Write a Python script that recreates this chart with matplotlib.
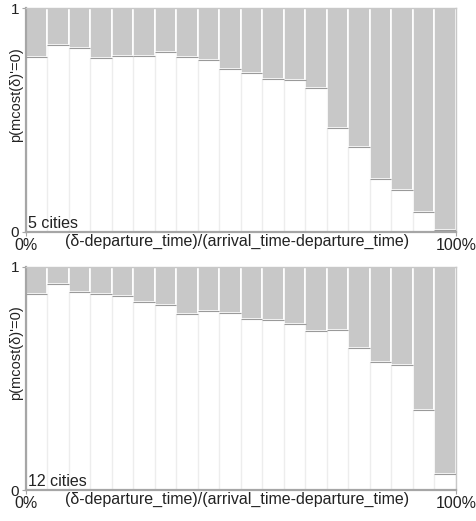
import matplotlib
matplotlib.use("Agg")
import matplotlib.pyplot as plt
import numpy as np

plt.rcParams['font.family'] = ['Liberation Sans', 'DejaVu Sans']

# Data: probability per 5% bin of (δ-departure_time)/(arrival_time-departure_time)
bins_left = [i * 0.05 for i in range(20)]
p_5_cities = [0.783, 0.835, 0.823, 0.777, 0.787, 0.784, 0.802, 0.783, 0.768, 0.728,
              0.708, 0.681, 0.679, 0.641, 0.466, 0.379, 0.237, 0.186, 0.091, 0.01]
p_12_cities = [0.879, 0.925, 0.886, 0.879, 0.868, 0.842, 0.831, 0.791, 0.801, 0.792,
               0.767, 0.764, 0.744, 0.712, 0.719, 0.637, 0.574, 0.562, 0.357, 0.072]
panel_labels = ["5 cities", "12 cities"]
x_ticks = [0.0, 1.0]
x_ticklabels = ["0%", "100%"]
y_ticks = [0, 1]
y_ticklabels = ["0", "1"]
xlabel = "(δ-departure_time)/(arrival_time-departure_time)"
ylabel = "p(mcost(δ)'=0)"

W, H = 477, 521
fig = plt.figure(figsize=(W / 100, H / 100), dpi=100)

def px_axes(l, t, r, b):
    return fig.add_axes([l / W, 1 - b / H, (r - l) / W, (b - t) / H])

axes = [px_axes(26, 8, 456, 232), px_axes(26, 267, 456, 490)]
series = [p_5_cities, p_12_cities]

bar_w = 0.05
grey = '#c8c8c8'
spine_c = '#a6a6a6'
txt_c = '#222222'
fs = 11.5
for ax, vals, lab in zip(axes, series, panel_labels):
    vals = np.array(vals)
    left = np.array(bins_left)
    # light vertical grid at bin boundaries
    for xb in list(left) + [1.0]:
        ax.axvline(xb, color='#ededed', lw=1, zorder=0)
    ax.bar(left, 1 - vals, bottom=vals, width=bar_w, align='edge',
           color=grey, edgecolor='white', linewidth=1.2, zorder=2)
    ax.hlines(vals, left, left + bar_w, color='#9a9a9a', lw=0.8, zorder=3)
    ax.set_xlim(0, 1)
    ax.set_ylim(0, 1)
    ax.set_xticks(x_ticks)
    ax.set_xticklabels(x_ticklabels)
    ax.set_yticks(y_ticks)
    ax.set_yticklabels(y_ticklabels)
    ax.tick_params(axis='both', length=3, width=0.8, color=spine_c,
                   labelsize=fs, labelcolor=txt_c)
    ax.tick_params(axis='x', pad=1)
    ax.tick_params(axis='y', pad=2, labelsize=11)
    for s in ['left', 'bottom']:
        ax.spines[s].set_color(spine_c)
        ax.spines[s].set_linewidth(1.6)
    for s in ['top', 'right']:
        ax.spines[s].set_color('#c8c8c8')
        ax.spines[s].set_linewidth(1.0)
    ax.set_xlabel(xlabel, fontsize=fs, color=txt_c)
    ax.xaxis.set_label_coords(0.49, -0.01)
    ax.set_ylabel(ylabel, fontsize=10.5, color=txt_c)
    ax.yaxis.set_label_coords(-0.006, 0.614)
    ax.text(0.004, 0.004, lab, transform=ax.transAxes, fontsize=fs,
            color=txt_c, ha='left', va='bottom', zorder=5)

fig.savefig("out.png", dpi=100)
